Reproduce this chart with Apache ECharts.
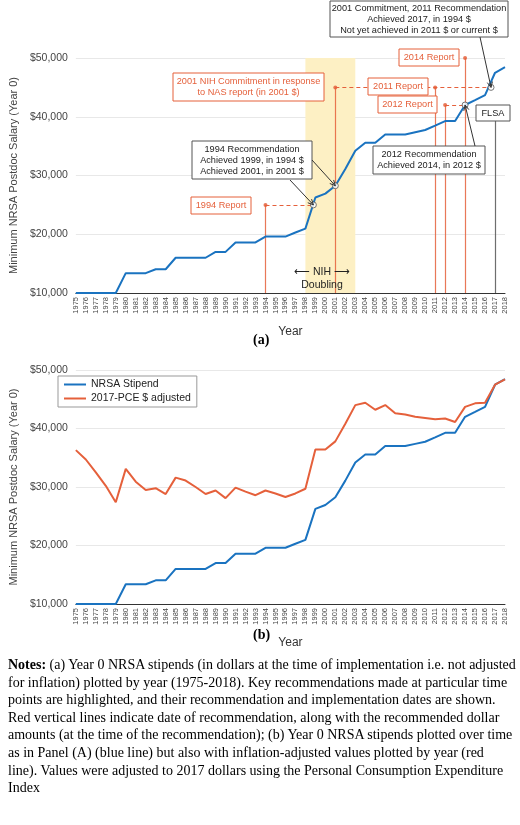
<!DOCTYPE html>
<html><head><meta charset="utf-8">
<script src="https://cdn.jsdelivr.net/npm/echarts@6/dist/echarts.min.js"></script>
<style>body{margin:0;background:#fff}#c{width:520px;height:650px}
#n{position:absolute;left:8px;top:656px;width:508px;font-family:"Liberation Serif",serif;font-size:14px;line-height:17.6px;color:#000}</style>
</head><body><div id="c"></div>
<div id="n"><b>Notes:</b> (a) Year 0 NRSA stipends (in dollars at the time of implementation i.e. not adjusted for inflation) plotted by year (1975-2018). Key recommendations made at particular time points are highlighted, and their recommendation and implementation dates are shown. Red vertical lines indicate date of recommendation, along with the recommended dollar amounts (at the time of the recommendation); (b) Year 0 NRSA stipends plotted over time as in Panel (A) (blue line) but also with inflation-adjusted values plotted by year (red line). Values were adjusted to 2017 dollars using the Personal Consumption Expenditure Index</div>
<script>
const years=[];for(let y=1975;y<=2018;y++)years.push(y);
const stipend=[10000,10000,10000,10000,10000,13380,13380,13380,14040,14040,16000,16000,16000,16000,17000,17000,18600,18600,18600,19608,19608,19608,20292,20964,26252,26916,28260,31092,34200,35568,35568,36996,36996,36996,37368,37740,38496,39264,39264,42000,42840,43692,47484,48432];
const adjusted=[36300,34700,32500,30200,27400,33100,30900,29500,29800,28800,31600,31100,30000,28800,29400,28100,29900,29200,28600,29400,28900,28300,28900,29700,36400,36400,37800,40800,44000,44400,43200,44000,42600,42400,42000,41800,41600,41700,41100,43700,44300,44400,47484,48400];
const reports=[[1994,25000],[2001,45000],[2011,45000],[2012,42000],[2014,50000]];
const achieved=[[1998.8,25000],[2001,28260],[2014,42000],[2016.6,45000]];
const RED='#e5603b',BLUE='#1a73c0';
const pair=a=>years.map((y,i)=>[y,a[i]]);
const chart=echarts.init(document.getElementById('c'));
const xa=(g)=>({type:'value',gridIndex:g,min:1975,max:2018,interval:1,name:'Year',nameLocation:'middle',nameGap:33,
 nameTextStyle:{fontSize:12,color:'#333',fontFamily:'Liberation Sans'},
 axisLine:{lineStyle:{color:'#333'}},axisTick:{show:false},splitLine:{show:false},
 axisLabel:{rotate:90,fontSize:7.5,margin:4,color:'#444',formatter:v=>String(v),fontFamily:'Liberation Sans'}});
const ya=(g)=>({type:'value',gridIndex:g,min:10000,max:50000,interval:10000,
 name:'Minimum NRSA Postdoc Salary (Year 0)',nameLocation:'middle',nameGap:44,
 nameTextStyle:{fontSize:11,color:'#444',fontFamily:'Liberation Sans'},
 axisLabel:{fontSize:10.5,color:'#444',formatter:v=>'$'+v.toLocaleString('en-US'),fontFamily:'Liberation Sans'},
 axisLine:{show:false},axisTick:{show:false},splitLine:{lineStyle:{color:'#e8e8e8'}}});
const vlines=reports.map(r=>[{coord:[r[0],10000]},{coord:[r[0],r[1]]}]);
const dashes=[[{coord:[1994,25000]},{coord:[1998.8,25000]}],[{coord:[2001,45000]},{coord:[2016.6,45000]}],[{coord:[2012,42000]},{coord:[2014,42000]}]];
chart.setOption({
 animation:false,
 grid:[{left:57,right:15,top:58,height:235},{left:57,right:15,top:370,height:234}],
 xAxis:[xa(0),xa(1)],yAxis:[ya(0),ya(1)],
 legend:{left:58,top:376,orient:'vertical',itemWidth:22,itemHeight:2,itemGap:3,borderColor:'#999',borderWidth:1,padding:[3,6],
  textStyle:{fontSize:10.5,fontFamily:'Liberation Sans',color:'#222'},data:[{name:'NRSA Stipend',icon:'rect'},{name:'2017-PCE $ adjusted',icon:'rect'}]},
 series:[
  {type:'line',xAxisIndex:0,yAxisIndex:0,data:pair(stipend),showSymbol:false,lineStyle:{color:BLUE,width:2},itemStyle:{color:BLUE},z:5,
   markArea:{silent:true,itemStyle:{color:'#fdf0c4'},data:[[{coord:[1998,10000]},{coord:[2003,50000]}]]},
   markLine:{silent:true,symbol:['none','circle'],symbolSize:4,label:{show:false},lineStyle:{color:RED,width:1.2,type:'solid',opacity:0.85},
    data:vlines.concat([[{coord:[2017,10000],lineStyle:{color:'#555'},symbol:'none'},{coord:[2017,40500],symbol:'none'}]])}},
  {type:'line',xAxisIndex:0,yAxisIndex:0,data:[],markLine:{silent:true,symbol:'none',label:{show:false},lineStyle:{color:RED,width:1.2,type:[4,3]},data:dashes}},
  {type:'scatter',xAxisIndex:0,yAxisIndex:0,data:achieved,symbol:'circle',symbolSize:6,itemStyle:{color:'#fff',borderColor:'#555',borderWidth:1},z:10},
  {name:'NRSA Stipend',type:'line',xAxisIndex:1,yAxisIndex:1,data:pair(stipend),showSymbol:false,lineStyle:{color:BLUE,width:2},itemStyle:{color:BLUE}},
  {name:'2017-PCE $ adjusted',type:'line',xAxisIndex:1,yAxisIndex:1,data:pair(adjusted),showSymbol:false,lineStyle:{color:RED,width:2},itemStyle:{color:RED}}
 ]
});
function box(x,y,w,h,text,color){return {type:'group',zlevel:1,z:20,children:[
 {type:'rect',zlevel:1,shape:{x:x,y:y,width:w,height:h},style:{fill:'#fff',stroke:color==='red'?RED:'#555',lineWidth:1}},
 {type:'text',zlevel:1,x:x+w/2,y:y+h/2,style:{text:text,fill:color==='red'?RED:'#222',fontSize:9.2,fontFamily:'Liberation Sans',align:'center',verticalAlign:'middle',lineHeight:11}}]};}
const px=(p)=>chart.convertToPixel({gridIndex:0},p);
function arrow(x1,y1,pt){const [x2,y2]=px(pt);const a=Math.atan2(y2-y1,x2-x1),L=6;
 return {type:'group',zlevel:1,z:21,children:[{type:'line',zlevel:1,shape:{x1,y1,x2,y2},style:{stroke:'#333',lineWidth:1}},
 {type:'polyline',zlevel:1,shape:{points:[[x2-L*Math.cos(a-0.45),y2-L*Math.sin(a-0.45)],[x2,y2],[x2-L*Math.cos(a+0.45),y2-L*Math.sin(a+0.45)]]},style:{stroke:'#333',fill:null,lineWidth:1}}]};}
chart.setOption({graphic:[
 box(330,1,178,36,'2001 Commitment, 2011 Recommendation\nAchieved 2017, in 1994 $\nNot yet achieved in 2011 $ or current $','gray'),
 box(399,49,60,17,'2014 Report','red'),
 box(173,73,151,28,'2001 NIH Commitment in response\nto NAS report (in 2001 $)','red'),
 box(368,78,60,17,'2011 Report','red'),
 box(378,96,59,17,'2012 Report','red'),
 box(476,105,34,16,'FLSA','gray'),
 box(192,141,120,38,'1994 Recommendation\nAchieved 1999, in 1994 $\nAchieved 2001, in 2001 $','gray'),
 box(373,146,112,28,'2012 Recommendation\nAchieved 2014, in 2012 $','gray'),
 box(191,197,60,17,'1994 Report','red'),
 {type:'text',x:322,y:266,zlevel:1,style:{text:'\u27F5 NIH \u27F6\nDoubling',fill:'#222',fontSize:10.5,fontFamily:'Liberation Sans',align:'center',lineHeight:13}},
 arrow(290,180,[1998.8,25000]),arrow(312,160,[2001,28260]),arrow(475,146,[2014,42000]),arrow(480,37,[2016.6,45000]),
 {type:'text',x:253,y:333,style:{text:'(a)',fontSize:14,fontWeight:'bold',fontFamily:'Liberation Serif',fill:'#000'}},
 {type:'text',x:253,y:628,style:{text:'(b)',fontSize:14,fontWeight:'bold',fontFamily:'Liberation Serif',fill:'#000'}}
]});
</script></body></html>
